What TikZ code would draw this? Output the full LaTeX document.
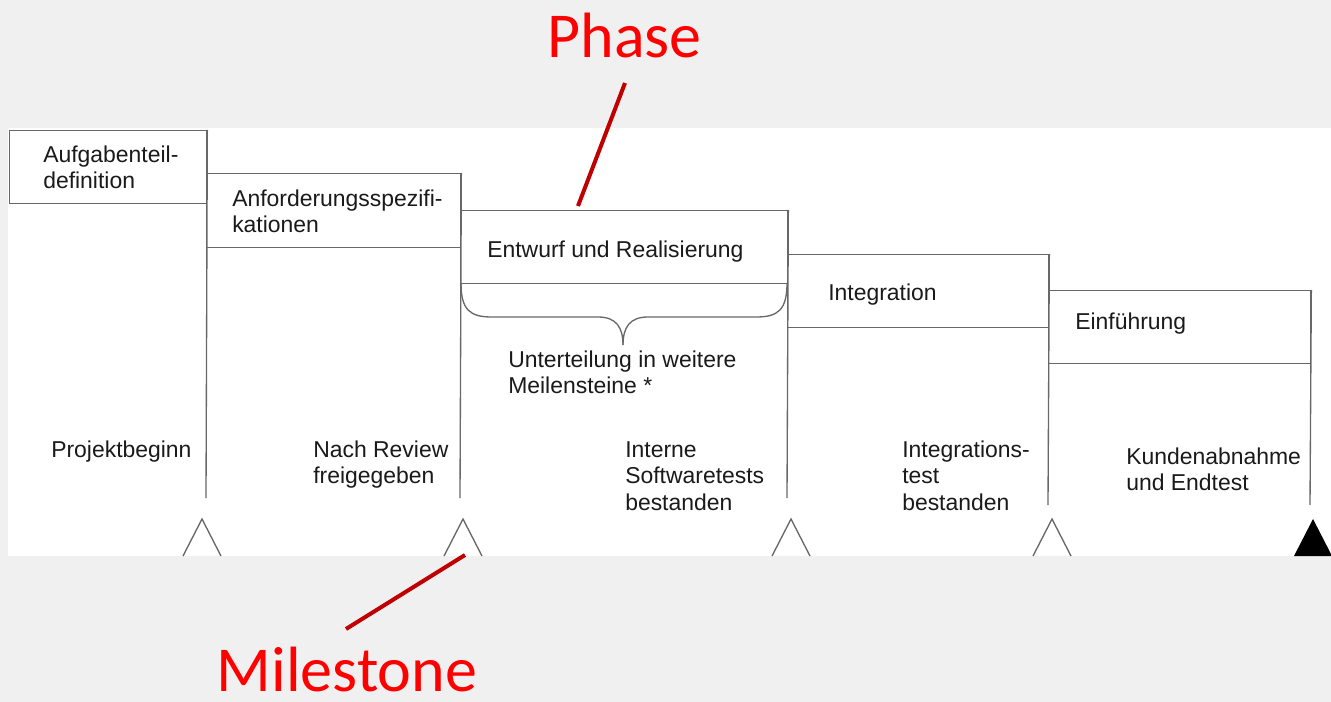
\documentclass[tikz,border=0pt]{standalone}
\usepackage{fontspec}
\setmainfont{Liberation Sans}
\newfontfamily\labelfont{Carlito}
\usetikzlibrary{calc}
\definecolor{bggray}{HTML}{F0F0F0}
\definecolor{linegray}{HTML}{686868}
\definecolor{txt}{HTML}{1A1A1A}
\definecolor{darkred}{HTML}{C00000}
\definecolor{brightred}{HTML}{FF0000}
\begin{document}
\begin{tikzpicture}[x=0.75pt,y=-0.75pt,
  phasebox/.style={draw=linegray, line width=1pt, fill=white, inner sep=0pt, anchor=north west},
  lbl/.style={font=\fontsize{17.2}{19.9}\selectfont, text=txt, align=left, inner sep=0pt, anchor=north west},
  msline/.style={draw=linegray, line width=1pt},
  mstri/.style={draw=linegray, line width=1pt, fill=white},
  redline/.style={draw=darkred, line width=3pt},
  redlbl/.style={font=\labelfont\fontsize{48}{56}\selectfont, text=brightred, inner sep=0pt, anchor=base}]
\fill[bggray] (0,0) rectangle (1331,702);
\useasboundingbox (0,0) rectangle (1331,702);
\fill[white] (8,128) rectangle (1331,556);

% phase boxes
\node[phasebox, minimum width=147.75pt, minimum height=54.75pt] (p1) at (9,130) {};
\node[phasebox, minimum width=190.5pt,  minimum height=55.5pt]  (p2) at (206,173) {};
\node[phasebox, minimum width=245.25pt, minimum height=54.75pt] (p3) at (460,210) {};
\node[phasebox, minimum width=195.75pt, minimum height=54.75pt] (p4) at (787,254) {};
\node[phasebox, minimum width=196.5pt,  minimum height=54.75pt] (p5) at (1048,290) {};

% phase texts
\node[lbl] (t-p1) at (43,143.4) {\strut Aufgabenteil-\\definition};
\node[lbl] (t-p2) at (232,187.4) {\strut Anforderungsspezifi-\\kationen};
\node[lbl] (t-p3) at (487,238.4) {\strut Entwurf und Realisierung};
\node[lbl] (t-p4) at (828,281.4) {\strut Integration};
\node[lbl] (t-p5) at (1075,310.4) {\strut Einführung};

% milestone lines
\coordinate (e1) at (206,498);
\coordinate (e2) at (460,498);
\coordinate (e3) at (787,498);
\coordinate (e4) at (1048,505);
\coordinate (e5) at (1310,505);
\draw[msline] (p1.north east) -- (e1);
\draw[msline] (p2.north east) -- (e2);
\draw[msline] (p3.north east) -- (e3);
\draw[msline] (p4.north east) -- (e4);
\draw[msline] (p5.north east) -- (e5);

% brace below Entwurf und Realisierung
\coordinate (bl) at (461,283);
\coordinate (br) at (787,283);
\coordinate (btip) at (623,345);
\draw[msline] (bl) .. controls (461,310) and (470,317) .. (492,317) -- (598,317)
  .. controls (616,317) and (623,327) .. (btip);
\draw[msline] (br) .. controls (787,310) and (778,317) .. (756,317) -- (648,317)
  .. controls (630,317) and (623,327) .. (btip);
\node[lbl] (t-sub) at (508,348.4) {\strut Unterteilung in weitere\\Meilensteine *};

% milestone texts
\node[lbl] (m1) at (51,438.4) {\strut Projektbeginn};
\node[lbl] (m2) at (313,438.4) {\strut Nach Review\\freigegeben};
\node[lbl] (m3) at (625,438.4) {\strut Interne\\Softwaretests\\bestanden};
\node[lbl] (m4) at (902,438.4) {\strut Integrations-\\test\\bestanden};
\node[lbl] (m5) at (1126,445.4) {\strut Kundenabnahme\\und Endtest};

% milestone triangles
\coordinate (a1) at (202,519);
\coordinate (a2) at (463,519);
\coordinate (a3) at (791,519);
\coordinate (a4) at (1052,519);
\coordinate (a5) at (1313,519);
\draw[mstri] ($(a1)+(-19,37)$) -- (a1) -- ($(a1)+(19,37)$);
\draw[mstri] ($(a2)+(-19,37)$) -- (a2) -- ($(a2)+(19,37)$);
\draw[mstri] ($(a3)+(-19,37)$) -- (a3) -- ($(a3)+(19,37)$);
\draw[mstri] ($(a4)+(-19,37)$) -- (a4) -- ($(a4)+(19,37)$);
\fill[black] ($(a5)+(-19,37)$) -- (a5) -- ($(a5)+(19,37)$) -- cycle;

% red annotations
\node[redlbl] (phase) at (624.5,58) {Phase};
\coordinate (phaseFrom) at (625,83);
\coordinate (phaseTo) at (578,206);
\draw[redline] (phaseFrom) -- (phaseTo);
\node[redlbl] (milestone) at (347,691) {Milestone};
\coordinate (msFrom) at (346,629);
\coordinate (msTo) at (465,555);
\draw[redline] (msFrom) -- (msTo);
\end{tikzpicture}
\end{document}
